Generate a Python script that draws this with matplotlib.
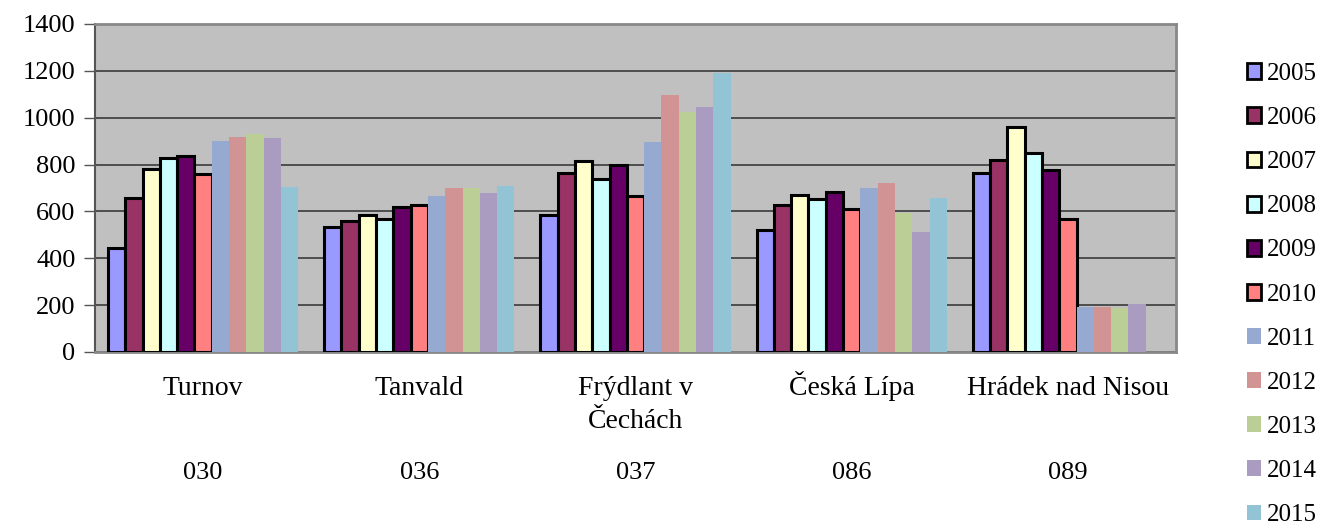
import numpy as np
import matplotlib
matplotlib.use("Agg")
import matplotlib.pyplot as plt
from matplotlib.patches import Patch
from matplotlib.font_manager import FontProperties

plt.rcParams['font.family'] = ['Liberation Serif', 'DejaVu Serif']
SERIF = ['Liberation Serif', 'DejaVu Serif']

# categories (name, district code)
towns = ["Turnov", "Tanvald", "Frýdlant v\nČechách", "Česká Lípa", "Hrádek nad Nisou"]
codes = ["030", "036", "037", "086", "089"]
years = ["2005", "2006", "2007", "2008", "2009", "2010",
         "2011", "2012", "2013", "2014", "2015"]

# values per year, one entry per town
v2005 = [445, 533, 585, 519, 763]
v2006 = [658, 559, 763, 629, 819]
v2007 = [782, 585, 815, 670, 962]
v2008 = [829, 566, 738, 653, 848]
v2009 = [835, 620, 798, 684, 777]
v2010 = [761, 629, 667, 610, 566]
v2011 = [900, 664, 896, 700, 193]
v2012 = [919, 700, 1096, 720, 191]
v2013 = [930, 700, 1024, 592, 186]
v2014 = [912, 679, 1044, 514, 205]
v2015 = [703, 708, 1192, 656, 0]
series = [v2005, v2006, v2007, v2008, v2009, v2010,
          v2011, v2012, v2013, v2014, v2015]

colors = ["#9999FF", "#993366", "#FFFFCC", "#CCFFFF", "#660066", "#FF8080",
          "#95A9D1", "#D19393", "#BBCE96", "#AA9CC0", "#93C4D6"]
edged = [True] * 6 + [False] * 5

fig = plt.figure(figsize=(13.22, 5.28), dpi=100)
ax = fig.add_axes([95 / 1322, 1 - 352 / 528, 1081 / 1322, 328 / 528])
ax.set_facecolor("#C0C0C0")

x = np.arange(len(towns))
w = 0.08
for i, (vals, c, e) in enumerate(zip(series, colors, edged)):
    off = (i - 5) * w
    if e:
        ax.bar(x + off, vals, w, color=c, edgecolor="black", linewidth=2.2, zorder=3)
    else:
        ax.bar(x + off, vals, w, color=c, linewidth=0, zorder=3)

ax.set_xlim(-0.5, len(towns) - 0.5)
ax.set_ylim(0, 1400)
ax.set_yticks(range(0, 1401, 200))
ax.set_yticklabels([str(v) for v in range(0, 1401, 200)], fontfamily=SERIF, fontsize=19)
ax.yaxis.grid(True, color="#3a3a3a", linewidth=1.2, zorder=1)
ax.set_axisbelow(True)
ax.tick_params(axis="y", direction="out", length=8, width=1, color="#555555", pad=6)
ax.set_xticks(x)
ax.set_xticklabels([])
ax.tick_params(axis="x", length=0)

# town names (one baseline per line) and district codes below
xt = ax.get_xaxis_transform()
for xi, name, code in zip(x, towns, codes):
    for k, line in enumerate(name.split("\n")):
        ax.text(xi, -(43 + 33 * k) / 328, line, transform=xt,
                ha="center", va="baseline", fontsize=20, fontfamily=SERIF)
    ax.text(xi, -0.37, code, transform=xt,
            ha="center", va="center", fontsize=19, fontfamily=SERIF)

for side in ["top", "right", "bottom"]:
    ax.spines[side].set_color("#888888")
    ax.spines[side].set_linewidth(2)
ax.spines["left"].set_color("#555555")
ax.spines["left"].set_linewidth(1.5)

handles = []
for c, e, y in zip(colors, edged, years):
    if e:
        handles.append(Patch(facecolor=c, edgecolor="black", linewidth=2, label=y))
    else:
        handles.append(Patch(facecolor=c, linewidth=0, label=y))
fig.legend(handles=handles, loc="upper left", bbox_to_anchor=(1237 / 1322, 1 - 53 / 528),
           frameon=False, prop=FontProperties(family=SERIF, size=18),
           handlelength=0.56, handleheight=0.6, handletextpad=0.24,
           labelspacing=0.885, borderaxespad=0)

fig.savefig("out.png", dpi=100)
